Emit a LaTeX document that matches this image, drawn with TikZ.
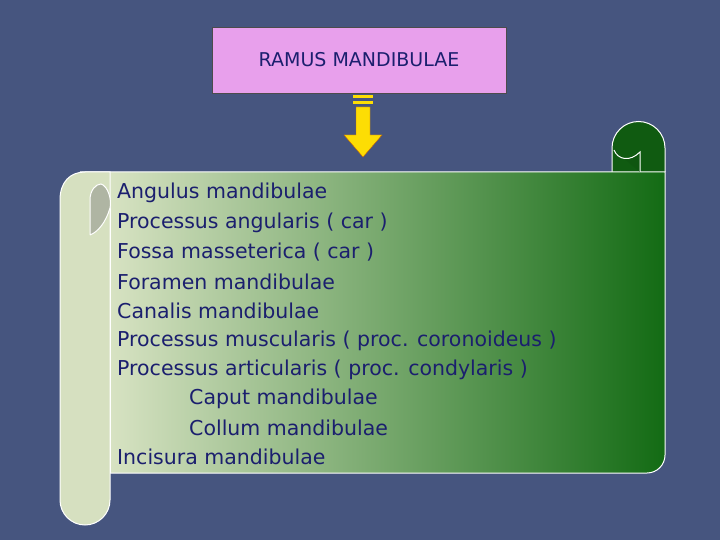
\documentclass[tikz,border=0pt]{standalone}
\usepackage{fontspec}
\setmainfont{DejaVu Sans}
\begin{document}
\begin{tikzpicture}[x=1pt,y=-1pt,
  line/.style={font=\fontsize{20.5}{20}\selectfont,text=navy,anchor=west,inner sep=0pt},
  edge/.style={draw=white,line width=1pt}]
\definecolor{bg}{HTML}{46557F}
\definecolor{navy}{HTML}{1B1F6E}
\definecolor{lightg}{HTML}{E2E9CC}
\definecolor{darkg}{HTML}{136B14}
\definecolor{rollg}{HTML}{D6E0C0}
\fill[bg] (0,0) rectangle (720,540);
\useasboundingbox (0,0) rectangle (720,540);
% title
\node[draw=black!70,fill={rgb,255:red,232;green,160;blue,236},minimum width=294,minimum height=66,inner sep=0pt,
  font=\fontsize{19}{19}\selectfont,text=navy] (title) at (359,60) {RAMUS MANDIBULAE};
% arrow
\fill[yellow!80!orange] (353,95) rectangle (373,98);
\fill[yellow!80!orange] (353,101) rectangle (373,104);
\fill[yellow!80!orange,draw=orange!80!black,line width=0.4pt] (356,107) -- (370,107) -- (370,135) -- (382,135) -- (363,157) -- (344,135) -- (356,135) -- cycle;
% right curl (behind body)
\path[fill=darkg!85!black,edge] (612,172) -- (612,148) arc[start angle=180,end angle=360,radius=26.5] -- (665,172);
% main body
\shade[left color=lightg,right color=darkg] (80,172) -- (665,172) -- (665,455) arc[start angle=0,end angle=90,radius=18] -- (105,473) -- (105,200) -- cycle;
\draw[edge] (80,172) -- (665,172) -- (665,455) arc[start angle=0,end angle=90,radius=18] -- (108,473);
% right curl inner
\draw[edge,fill=darkg!80!black] (640,172) -- (640,152) .. controls (630,162) and (618,160) .. (614,150);
% left roll
\path[fill=rollg,edge] (60,200) .. controls (60,182) and (70,172) .. (85,172) -- (110,172) -- (110,500) arc[start angle=0,end angle=180,radius=25] -- cycle;
\draw[edge] (110,200) -- (110,473);
% left curl
\path[fill=gray!45!rollg,edge] (90,235) -- (90,200) .. controls (90,190) and (96,184) .. (101,184)
  .. controls (108,186) and (112,200) .. (110,208) .. controls (106,222) and (98,232) .. (90,235);
% text
\node[line] (l1) at (117,193) {Angulus mandibulae};
\node[line] (l2) at (117,223) {Processus angularis ( car )};
\node[line] (l3) at (117,252) {Fossa masseterica ( car )};
\node[line] (l4) at (117,282) {Foramen mandibulae};
\node[line] (l5) at (117,311) {Canalis mandibulae};
\node[line] (l6) at (117,341) {Processus muscularis ( proc. coronoideus )};
\node[line] (l7) at (117,370) {Processus articularis ( proc. condylaris )};
\node[line] (l8) at (189,399) {Caput mandibulae};
\node[line] (l9) at (189,428) {Collum mandibulae};
\node[line] (l10) at (117,457) {Incisura mandibulae};
\end{tikzpicture}
\end{document}
